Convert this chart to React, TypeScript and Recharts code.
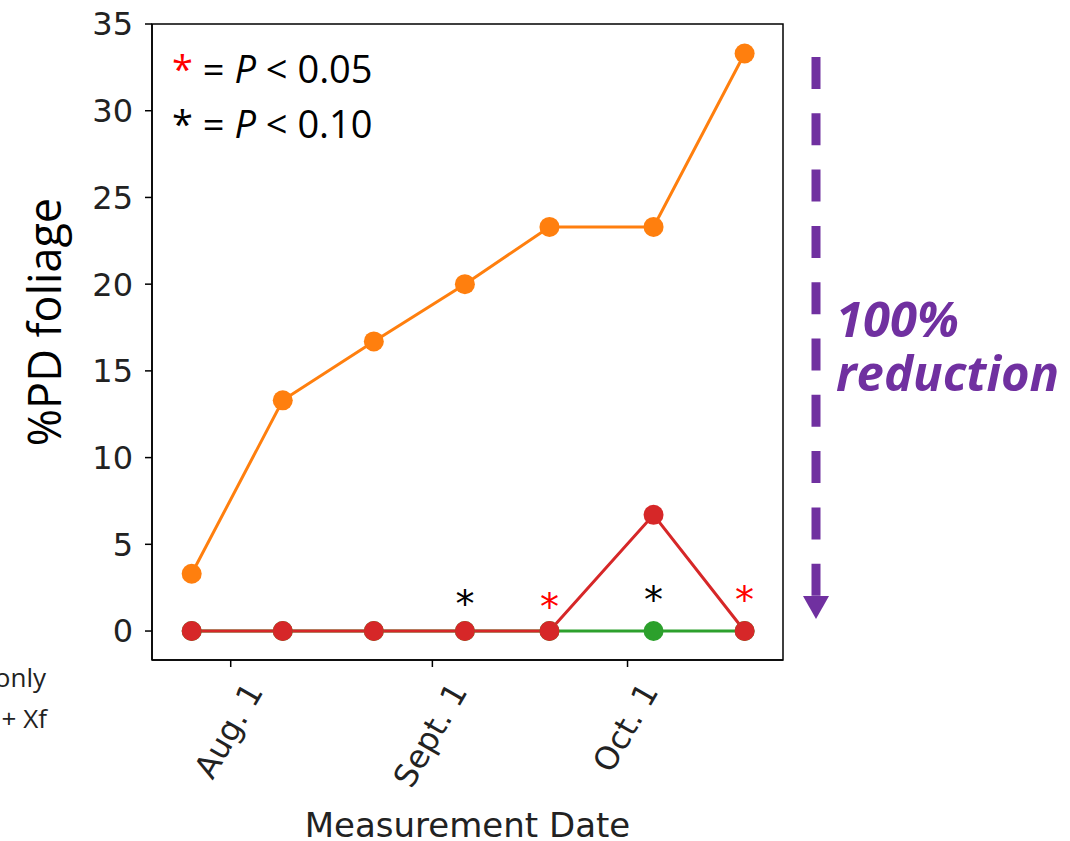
import { ComposedChart, Line, Scatter, XAxis, YAxis, ReferenceArea } from 'recharts';

// days counted from Aug. 1
const measurementDays = [-6, 8, 22, 36, 49, 65, 79];
const xfOnly = [3.3, 13.3, 16.7, 20.0, 23.3, 23.3, 33.3];
const greenTreatment = [0, 0, 0, 0, 0, 0, 0];
const redTreatment = [0, 0, 0, 0, 0, 6.7, 0];

const tickDays = [0, 31, 61];
const tickLabels = ['Aug. 1', 'Sept. 1', 'Oct. 1'];
const yTicks = [0, 5, 10, 15, 20, 25, 30, 35];

// significance markers above points
const sigDays = [36, 49, 65, 79];
const sigHeights = [2.02, 1.85, 2.25, 2.25];
const sigLevels = ['p10', 'p05', 'p10', 'p05'];

const data = measurementDays.map((d, i) => ({
  day: d,
  orange: xfOnly[i],
  green: greenTreatment[i],
  red: redTreatment[i],
}));

const sigData = sigDays.map((d, i) => ({ day: d, y: sigHeights[i], level: sigLevels[i] }));

const TICK_FONT = '"DejaVu Sans", sans-serif';

let ctx: CanvasRenderingContext2D | null = null;
function measure(text: string, fs: number) {
  if (!ctx) ctx = document.createElement('canvas').getContext('2d');
  if (!ctx) return text.length * fs * 0.6;
  ctx.font = `${fs}px "DejaVu Sans"`;
  return ctx.measureText(text).width;
}

const DateTick = (props: any) => {
  const { x, y, payload } = props;
  const idx = tickDays.indexOf(payload.value);
  const label = idx >= 0 ? tickLabels[idx] : '';
  const fs = 32;
  const w = measure(label, fs);
  const h = w * Math.sin(Math.PI / 3) + fs * 0.55;
  const cy = y + 6 + h / 2;
  return (
    <text
      transform={`translate(${x - 2},${cy}) rotate(-60)`}
      textAnchor="middle"
      dominantBaseline="central"
      fontSize={fs}
      fontFamily={TICK_FONT}
      fill="#222"
    >
      {label}
    </text>
  );
};

const Star = (props: any) => {
  const { cx, cy, payload } = props;
  return (
    <text
      x={cx}
      y={cy + 21}
      textAnchor="middle"
      fontSize={38}
      fontFamily={TICK_FONT}
      fill={payload.level === 'p05' ? '#ff0000' : '#000'}
    >
      *
    </text>
  );
};

export default function App() {
  return (
    <div style={{ position: 'absolute', left: 0, top: 0, width: 1070, height: 841, background: '#fff' }}>
      <ComposedChart width={1070} height={841} data={data} margin={{ top: 24, right: 287, bottom: 0, left: 0 }}>
        <XAxis
          dataKey="day"
          type="number"
          domain={[-12.1, 84.9]}
          allowDataOverflow
          ticks={tickDays}
          tick={<DateTick />}
          tickSize={7}
          tickMargin={4}
          height={181}
          stroke="#000"
          axisLine={{ stroke: '#000', strokeWidth: 1.5 }}
          tickLine={{ stroke: '#000', strokeWidth: 1.5 }}
          label={{ value: 'Measurement Date', position: 'insideBottom', offset: 4, fontSize: 34, fontFamily: TICK_FONT, fill: '#222' }}
        />
        <YAxis
          type="number"
          domain={[-1.67, 35]}
          allowDataOverflow
          ticks={yTicks}
          width={152}
          tickSize={7}
          tickMargin={12}
          stroke="#000"
          axisLine={{ stroke: '#000', strokeWidth: 1.5 }}
          tickLine={{ stroke: '#000', strokeWidth: 1.5 }}
          tick={{ fontSize: 32, fontFamily: TICK_FONT, fill: '#222' }}
        />
        <ReferenceArea x1={-12.1} x2={84.9} y1={-1.67} y2={35} fill="none" stroke="#000" strokeWidth={1.5} ifOverflow="visible" />
        <Line dataKey="green" stroke="#2ca02c" strokeWidth={3} dot={{ r: 10, fill: '#2ca02c', stroke: 'none' }} isAnimationActive={false} />
        <Line dataKey="orange" stroke="#ff7f0e" strokeWidth={3} dot={{ r: 10, fill: '#ff7f0e', stroke: 'none' }} isAnimationActive={false} />
        <Line dataKey="red" stroke="#d62728" strokeWidth={3} dot={{ r: 10, fill: '#d62728', stroke: 'none' }} isAnimationActive={false} />
        <Scatter data={sigData} dataKey="y" shape={<Star />} isAnimationActive={false} />
      </ComposedChart>
      <svg width={1070} height={841} style={{ position: 'absolute', left: 0, top: 0, pointerEvents: 'none' }}>
        <text transform="translate(61,322) rotate(-90)" textAnchor="middle" fontSize={45} fontFamily='"Open Sans", sans-serif' fill="#000">
          %PD foliage
        </text>
        <g fontFamily='"Open Sans", sans-serif' fontSize={38}>
          <text x={172} y={83}>
            <tspan fill="#ff0000">*</tspan>
            <tspan fill="#000"> = </tspan>
            <tspan fill="#000" fontStyle="italic">P</tspan>
            <tspan fill="#000"> &lt; 0.05</tspan>
          </text>
          <text x={172} y={138}>
            <tspan fill="#000">* = </tspan>
            <tspan fill="#000" fontStyle="italic">P</tspan>
            <tspan fill="#000"> &lt; 0.10</tspan>
          </text>
        </g>
        <g fontFamily='"Open Sans", sans-serif' fontSize={26} fill="#222" textAnchor="end">
          <text x={46} y={687}>only</text>
          <text x={47} y={728}>+ Xf</text>
        </g>
        <line x1={816} y1={57} x2={816} y2={597} stroke="#7030a0" strokeWidth={9} strokeDasharray="32 24.3" />
        <polygon points="803,596 829,596 816,619" fill="#7030a0" />
        <g fontFamily='"Open Sans", sans-serif' fontWeight="bold" fontStyle="italic" fontSize={49} fill="#7030a0">
          <text x={836} y={337}>100%</text>
          <text x={836} y={391}>reduction</text>
        </g>
      </svg>
    </div>
  );
}
